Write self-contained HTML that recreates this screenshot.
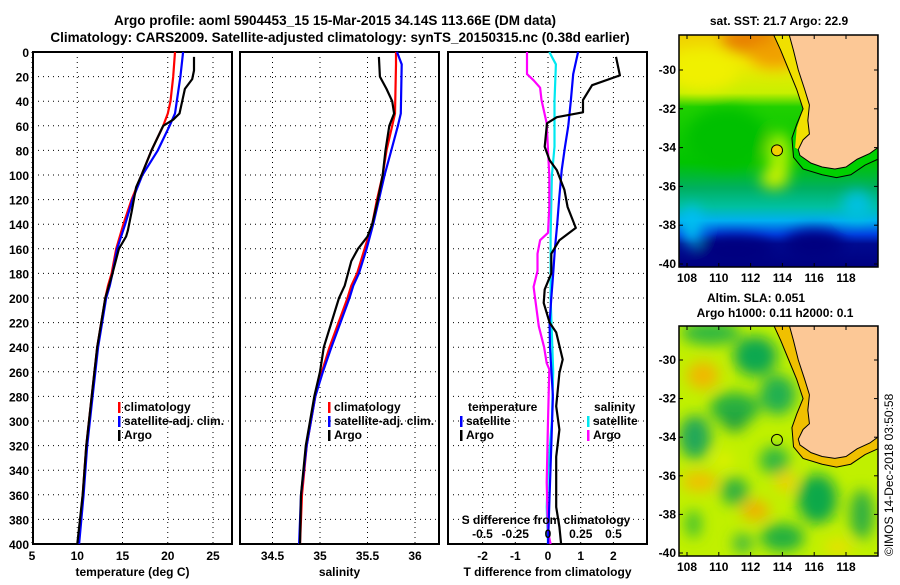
<!DOCTYPE html>
<html><head><meta charset="utf-8"><style>
body{margin:0;background:#fff;width:900px;height:580px;overflow:hidden}
svg text{font-family:"Liberation Sans",sans-serif;font-weight:bold;fill:#000}
</style></head><body>
<svg id="c" width="900" height="580" xmlns="http://www.w3.org/2000/svg">
<defs>
<filter id="bl" x="-20%" y="-20%" width="140%" height="140%"><feGaussianBlur stdDeviation="7"/></filter>
<clipPath id="m1"><rect x="679" y="35" width="199" height="232"/></clipPath>
<clipPath id="m2"><rect x="679" y="326" width="199" height="230"/></clipPath>
<linearGradient id="sst" x1="0" y1="0" x2="0" y2="1">
<stop offset="0" stop-color="#f0d000"/><stop offset="0.12" stop-color="#f0e800"/><stop offset="0.25" stop-color="#c8f000"/>
<stop offset="0.31" stop-color="#20d000"/><stop offset="0.55" stop-color="#00c400"/><stop offset="0.66" stop-color="#00b060"/>
<stop offset="0.74" stop-color="#00c0a0"/><stop offset="0.8" stop-color="#00b0f0"/><stop offset="0.86" stop-color="#0040e0"/>
<stop offset="0.9" stop-color="#000a90"/><stop offset="1" stop-color="#000080"/></linearGradient>
</defs>
<text x="335" y="25" font-size="13.5" text-anchor="middle">Argo profile: aoml 5904453_15 15-Mar-2015 34.14S 113.66E (DM data)</text>
<text x="340" y="42" font-size="13.5" text-anchor="middle">Climatology: CARS2009. Satellite-adjusted climatology: synTS_20150315.nc (0.38d earlier)</text>
<g id="plots"></g>
<g id="maps"></g>
<text transform="translate(893,556) rotate(-90)" font-size="12" style="font-weight:normal">©IMOS 14-Dec-2018 03:50:58</text>
</svg>
<script>
// ---- data ----
const tDepthClim=[0,20,40,50,60,80,100,120,140,160,180,190,200,240,280,320,360,400];
const tClim=[20.8,20.6,20.3,20.0,19.5,18.2,17.1,16.0,15.1,14.3,13.8,13.4,13.1,12.2,11.6,11.0,10.6,10.1];
const tSat=[21.7,21.4,21.0,20.8,20.2,18.9,17.2,16.1,15.3,14.4,13.9,13.6,13.2,12.3,11.7,11.1,10.7,10.2];
const tDepthArgo=[4,15,22,30,40,50,55,60,80,100,110,130,145,150,160,180,200,240,280,320,360,400];
const tArgo=[22.9,22.9,22.7,21.9,21.6,21.3,20.6,19.5,18.2,17.1,16.5,16.0,15.6,15.4,14.6,13.9,13.1,12.2,11.6,11.0,10.6,10.0];
const sDepthClim=[0,10,50,60,80,100,120,140,160,180,190,200,240,260,280,320,360,400];
const sClim=[35.80,35.80,35.79,35.76,35.70,35.66,35.60,35.55,35.47,35.39,35.33,35.29,35.10,35.02,34.95,34.86,34.81,34.79];
const sSat=[35.81,35.86,35.85,35.82,35.75,35.68,35.62,35.56,35.49,35.41,35.35,35.31,35.12,35.03,34.95,34.86,34.80,34.78];
const sDepthArgo=[4,20,30,40,50,60,80,100,120,140,150,160,170,190,200,240,260,280,320,360,400];
const sArgo=[35.62,35.63,35.70,35.76,35.78,35.73,35.69,35.66,35.61,35.55,35.50,35.40,35.33,35.26,35.20,35.04,35.0,34.94,34.85,34.80,34.79];
const dDepthT=[0,18,39,60,77,96,120,140,160,180,200,220,240,280,320,360,400];
const dTSat=[0.92,0.77,0.70,0.62,0.52,0.42,0.34,0.28,0.21,0.16,0.10,0.05,0.06,0.15,0.10,0.05,0.0];
const dDepthTA=[4,19,27,39,49,53,58,77,88,96,112,126,143,153,164,180,193,204,220,228,250,261,288,307,329,356,370,386,400];
const dTArgo=[2.08,2.2,1.35,1.07,1.07,0.27,-0.03,-0.1,0.05,0.27,0.5,0.6,0.85,0.35,0.1,0.1,-0.1,-0.13,0.05,0.25,0.45,0.35,0.25,0.35,0.25,0.25,0.25,0.35,0.4];
const dDepthS=[0,10,40,77,100,150,200,260,300,340,370,400];
const dSSat=[0.01,0.06,0.05,0.05,0.03,0.02,0.02,0.04,0.03,0.0,-0.01,0.0];
const dDepthSA=[0,18,23,29,39,58,80,100,126,147,153,164,178,191,207,223,240,253,258,300,350,390,400];
const dSArgo=[-0.16,-0.16,-0.11,-0.06,-0.05,-0.01,0,0.01,0.01,0,-0.06,-0.08,-0.08,-0.11,-0.09,-0.07,-0.03,-0.01,0.01,0.0,-0.01,0.0,0.02];
const depthTicks=[0,20,40,60,80,100,120,140,160,180,200,220,240,260,280,300,320,340,360,380,400];
const tTicks=[5,10,15,20,25];
const sTicks=[34.5,35,35.5,36];
const dTTicks=[-2,-1,0,1,2];
const dSTicks=[-0.5,-0.25,0,0.25,0.5];
const lonTicks=[108,110,112,114,116,118];
const latTicks=[-30,-32,-34,-36,-38,-40];
const floatLon=113.66, floatLat=-34.14;

const NS='http://www.w3.org/2000/svg';
function mk(tag,attrs,parent){const e=document.createElementNS(NS,tag);for(const k in attrs)e.setAttribute(k,attrs[k]);parent.appendChild(e);return e;}
const P=document.getElementById('plots');
const Y0=52, Y1=544;
const yD=d=>Y0+d*(Y1-Y0)/400;
const panels=[
 {x0:33,x1:232,fx:v=>32+(v-5)*9.05,ticks:tTicks,title:'temperature (deg C)',name:'temperature-panel'},
 {x0:240,x1:439,fx:v=>320+(v-35)*95,ticks:sTicks,title:'salinity',name:'salinity-panel'},
 {x0:448,x1:647,fx:v=>548+v*32.7,ticks:dTTicks,title:'T difference from climatology',name:'difference-panel'}
];
panels.forEach((p,i)=>{
 const g=mk('g',{},P);
 
 
 depthTicks.forEach(d=>{
  const l=mk('line',{x1:p.x0,x2:p.x1,y1:yD(d),y2:yD(d),stroke:'#000','stroke-width':1,'stroke-dasharray':'1,4'},g);
  
  if(i==0){const t=mk('text',{x:29,y:yD(d)+5,'font-size':12,'text-anchor':'end'},g);t.textContent=d;
   }
 });
 p.ticks.forEach(v=>{
  const x=p.fx(v);
  const l=mk('line',{x1:x,x2:x,y1:Y0,y2:Y1,stroke:'#000','stroke-width':1,'stroke-dasharray':'1,4'},g);
  
  const t=mk('text',{x:x,y:560,'font-size':12,'text-anchor':'middle'},g);t.textContent=v;
  
 });
 const r=mk('rect',{x:p.x0,y:Y0,width:p.x1-p.x0,height:Y1-Y0,fill:'none',stroke:'#000','stroke-width':2},g);
 
 const t=mk('text',{x:(p.x0+p.x1)/2,y:576,'font-size':12,'text-anchor':'middle'},g);t.textContent=p.title;
 
});
function line(depths,vals,fx,color,name,w){
 const pts=depths.map((d,i)=>fx(vals[i]).toFixed(1)+','+yD(d).toFixed(1)).join(' ');
 const e=mk('polyline',{points:pts,fill:'none',stroke:color,'stroke-width':w||2.2,'stroke-linejoin':'round'},P);
 
 
}
const fT=panels[0].fx, fS=panels[1].fx, fD=panels[2].fx, fDS=v=>548+v*131;
line(tDepthClim,tClim,fT,'#f00','temp-climatology-line');
line(tDepthClim,tSat,fT,'#00f','temp-satellite-line');
line(tDepthArgo,tArgo,fT,'#000','temp-argo-line');
line(sDepthClim,sClim,fS,'#f00','sal-climatology-line');
line(sDepthClim,sSat,fS,'#00f','sal-satellite-line');
line(sDepthArgo,sArgo,fS,'#000','sal-argo-line');
line(dDepthS,dSSat,fDS,'#00e8f0','sdiff-satellite-line');
line(dDepthSA,dSArgo,fDS,'#f0f','sdiff-argo-line');
line(dDepthT,dTSat,fD,'#00f','tdiff-satellite-line');
line(dDepthTA,dTArgo,fD,'#000','tdiff-argo-line');
const st=mk('text',{x:546,y:524,'font-size':12,'text-anchor':'middle'},P);st.textContent='S difference from climatology';

dSTicks.forEach(v=>{const t=mk('text',{x:fDS(v),y:538,'font-size':12,'text-anchor':'middle'},P);t.textContent=v;
 });
function leg(x,y,color,label,name){
 const r=mk('rect',{x:x,y:y-9,width:2.5,height:11,fill:color},P);
 
 const t=mk('text',{x:x+6,y:y,'font-size':12},P);t.textContent=label;
 
}
[[0,'#f00','climatology'],[1,'#00f','satellite-adj. clim.'],[2,'#000','Argo']].forEach(([i,c,l])=>{
 leg(118,411+i*14,c,l,'legend-entry');leg(328,411+i*14,c,l,'legend-entry');
});
let t1=mk('text',{x:468,y:411,'font-size':12},P);t1.textContent='temperature';
let t2=mk('text',{x:594,y:411,'font-size':12},P);t2.textContent='salinity';
leg(460,425,'#00f','satellite','legend-entry');leg(460,439,'#000','Argo','legend-entry');
leg(587,425,'#00e8f0','satellite','legend-entry');leg(587,439,'#f0f','Argo','legend-entry');

// ---- maps ----
const M=document.getElementById('maps');
const coast=[[114.4,-28.1],[114.7,-29],[115.0,-30],[115.4,-31],[115.7,-31.8],[115.6,-32.6],[115.7,-33.3],[115.3,-33.6],[115.0,-34.1],[115.1,-34.4],[115.8,-34.8],[116.5,-35.0],[117.3,-35.1],[118.0,-35.0],[118.7,-34.6],[119.5,-34.3],[120,-34.0],[120,-28.1]];
const shelf=[[113.4,-28.1],[113.9,-29],[114.4,-30],[114.9,-31],[115.3,-32],[114.9,-32.8],[114.6,-33.5],[114.7,-34.5],[115.3,-35.1],[116.5,-35.4],[117.4,-35.55],[118.3,-35.4],[119.2,-34.9],[120,-34.6]];
function drawMap(top,bottom,y30,lines,clip,kind){
 const g=mk('g',{},M);
 
 
 const fx=lon=>687+(lon-108)*15.9, fy=lat=>y30+(-30-lat)*(kind=='sst'?19.4:19.3);
 const inner=mk('g',{'clip-path':'url(#'+clip+')'},g);
 if(kind=='sst'){
  mk('rect',{x:679,y:top,width:199,height:bottom-top,fill:'url(#sst)'},inner);
  const b=mk('g',{filter:'url(#bl)'},inner);
  [[112,-28.4,30,14,'#e88000'],[113.5,-29.2,25,14,'#f0a000'],[109,-30,35,20,'#f0f000'],[110.5,-33.5,40,30,'#00c000'],[113.8,-34.5,12,25,'#a8f000'],[113.5,-35.6,14,10,'#c8f000'],[111,-39.3,40,15,'#000080'],[116,-39,30,15,'#000080'],[118.7,-37,15,15,'#00c0e0'],[108.3,-38,10,20,'#00c0f0']].forEach(a=>mk('ellipse',{cx:fx(a[0]),cy:fy(a[1]),rx:a[2],ry:a[3],fill:a[4]},b));
 } else {
  mk('rect',{x:679,y:top,width:199,height:bottom-top,fill:'#c0f000'},inner);
  const b=mk('g',{filter:'url(#bl)'},inner);
  [[109.5,-28.6,30,12,'#30b840'],[112.3,-29.8,22,20,'#10a850'],[113.7,-31.8,18,20,'#20b050'],[111,-32.5,25,16,'#28b040'],[108.5,-34,16,22,'#20a858'],[111,-33.2,12,10,'#20a040'],[113.5,-35.2,15,14,'#30b840'],[111,-36.8,14,14,'#30b040'],[116.2,-37.2,20,25,'#10a848'],[119,-38,12,25,'#30b040'],[108.4,-38.5,8,14,'#40c030'],[114,-39.2,22,14,'#20b040'],[111.5,-39.5,10,10,'#40b840'],[109,-30.8,16,14,'#f0b800'],[108.8,-36.3,18,10,'#f0c000'],[112.3,-37.8,14,10,'#f0b000'],[114.2,-36.3,10,10,'#f0d000'],[117.5,-39.7,14,8,'#e8e000'],[110.3,-35.2,10,8,'#e0f000']].forEach(a=>mk('ellipse',{cx:fx(a[0]),cy:fy(a[1]),rx:a[2],ry:a[3],fill:a[4]},b));
 }
 const band=shelf.map(p=>fx(p[0])+','+fy(p[1])).join(' ')+' '+[...coast].reverse().map(p=>fx(p[0])+','+fy(p[1])).join(' ');
 mk('polygon',{points:band,fill:kind=='sst'?'#00d000':'#f0c000'},inner);
 if(kind=='sst'){mk('polygon',{points:[[113.4,-28.1],[114.4,-30],[115.3,-32],[114.9,-33],[114.8,-34],[115.0,-34.1],[115.7,-33.3],[115.7,-31.8],[115.0,-30],[114.4,-28.1]].map(p=>fx(p[0])+','+fy(p[1])).join(' '),fill:'#f0e000'},inner);}
 const land=mk('polygon',{points:coast.map(p=>fx(p[0])+','+fy(p[1])).join(' '),fill:'#fcc896',stroke:'#000','stroke-width':1},inner);
 
 const sh=mk('polyline',{points:shelf.map(p=>fx(p[0])+','+fy(p[1])).join(' '),fill:'none',stroke:'#000','stroke-width':1},inner);
 
 const fl=mk('circle',{cx:fx(floatLon),cy:fy(floatLat),r:5.5,fill:kind=='sst'?'#f0d000':'none',stroke:'#000','stroke-width':1},g);
 
 mk('rect',{x:679,y:top,width:199,height:bottom-top,fill:'none',stroke:'#000','stroke-width':1.5},g);
 lonTicks.forEach(v=>{const x=fx(v);mk('line',{x1:x,x2:x,y1:top,y2:top+4,stroke:'#000'},g);mk('line',{x1:x,x2:x,y1:bottom,y2:bottom-4,stroke:'#000'},g);
  const t=mk('text',{x:x,y:bottom+15,'font-size':12,'text-anchor':'middle'},g);t.textContent=v;
  });
 latTicks.forEach(v=>{const y=fy(v);mk('line',{x1:679,x2:683,y1:y,y2:y,stroke:'#000'},g);mk('line',{x1:878,x2:874,y1:y,y2:y,stroke:'#000'},g);
  const t=mk('text',{x:676,y:y+4,'font-size':12,'text-anchor':'end'},g);t.textContent=v;
  });
 lines.forEach(l=>{const t=mk('text',{x:l[1],y:l[0],'font-size':12,'text-anchor':'middle'},g);t.textContent=l[2];
  });
}
drawMap(35,267,70,[[25,779,'sat. SST: 21.7 Argo: 22.9']],'m1','sst');
drawMap(326,556,360,[[302,756,'Altim. SLA: 0.051'],[317,775,'Argo h1000: 0.11 h2000: 0.1']],'m2','sla');
</script>
</body></html>
